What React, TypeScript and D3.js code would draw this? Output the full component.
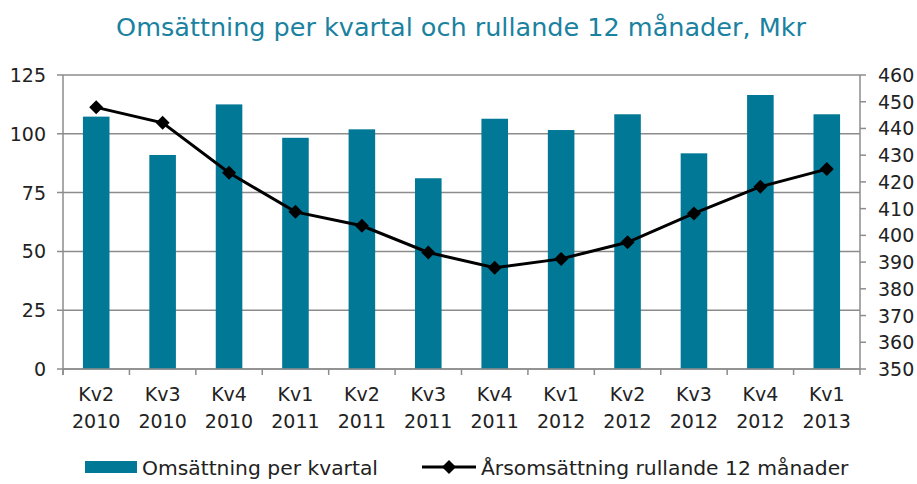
import React from "react";
import * as d3 from "d3";

const categories = ["Kv2 2010", "Kv3 2010", "Kv4 2010", "Kv1 2011", "Kv2 2011", "Kv3 2011", "Kv4 2011", "Kv1 2012", "Kv2 2012", "Kv3 2012", "Kv4 2012", "Kv1 2013"];
const quarterly = [107.3, 91, 112.5, 98.3, 101.9, 81.1, 106.4, 101.6, 108.3, 91.7, 116.5, 108.3];
const rolling = [447.9, 442.1, 423.4, 408.8, 403.6, 393.6, 387.9, 391.2, 397.4, 408.2, 418.2, 424.8];
const leftTicks = [0, 25, 50, 75, 100, 125];
const rightTicks = [350, 360, 370, 380, 390, 400, 410, 420, 430, 440, 450, 460];
const title = "Omsättning per kvartal och rullande 12 månader, Mkr";
const legendBar = "Omsättning per kvartal";
const legendLine = "Årsomsättning rullande 12 månader";

const W = 917, H = 484;
const left = 63, right = 860, top = 75, bottom = 369;
const FONT = "'DejaVu Sans', sans-serif";
const BAR = "#007896";
const GRID = "#8c8c8c";

export default function App() {
  const x = d3.scaleBand<string>().domain(categories).range([left, right]).paddingInner(0.6).paddingOuter(0.3);
  const xc = (c: string) => (x(c) as number) + x.bandwidth() / 2;
  const yL = d3.scaleLinear().domain([0, 125]).range([bottom, top]);
  const yR = d3.scaleLinear().domain([350, 460]).range([bottom, top]);
  const step = (right - left) / categories.length;
  const line = d3.line<number>().x((_, i) => xc(categories[i])).y((d) => yR(d));
  const diamond = (cx: number, cy: number, r: number) => `M${cx},${cy - r}L${cx + r},${cy}L${cx},${cy + r}L${cx - r},${cy}Z`;

  return (
    <svg width={W} height={H} style={{ position: "absolute", left: 0, top: 0, background: "#fff" }} fontFamily={FONT}>
      <text x={461} y={36} textAnchor="middle" fontSize={25.5} fill="#1a82a0">{title}</text>
      {leftTicks.map((t) => (
        <g key={t}>
          <line x1={left - 6} x2={right} y1={yL(t)} y2={yL(t)} stroke={GRID} strokeWidth={1.5} />
          <text x={46} y={yL(t) + 7} textAnchor="end" fontSize={19} fill="#222">{t}</text>
        </g>
      ))}
      {rightTicks.map((t) => (
        <g key={t}>
          <line x1={right} x2={right + 6} y1={yR(t)} y2={yR(t)} stroke={GRID} strokeWidth={1.5} />
          <text x={878} y={yR(t) + 7} fontSize={19} fill="#222">{t}</text>
        </g>
      ))}
      <line x1={left} x2={left} y1={top} y2={bottom + 6} stroke={GRID} strokeWidth={1.5} />
      <line x1={right} x2={right} y1={top} y2={bottom + 6} stroke={GRID} strokeWidth={1.5} />
      {categories.map((c, i) => (
        <line key={c} x1={left + step * i} x2={left + step * i} y1={bottom} y2={bottom + 6} stroke={GRID} strokeWidth={1.5} />
      ))}
      {quarterly.map((v, i) => (
        <rect key={i} x={x(categories[i])} y={yL(v)} width={x.bandwidth()} height={yL(0) - yL(v)} fill={BAR} />
      ))}
      <line x1={left} x2={right} y1={bottom} y2={bottom} stroke={GRID} strokeWidth={1.5} />
      <path d={line(rolling) || ""} fill="none" stroke="#000" strokeWidth={3} />
      {rolling.map((v, i) => (
        <path key={i} d={diamond(xc(categories[i]), yR(v), 7)} fill="#000" />
      ))}
      {categories.map((c) => {
        const [a, b] = c.split(" ");
        return (
          <text key={c} textAnchor="middle" fontSize={19} fill="#222">
            <tspan x={left + step * (categories.indexOf(c) + 0.5)} y={401}>{a}</tspan>
            <tspan x={left + step * (categories.indexOf(c) + 0.5)} y={428}>{b}</tspan>
          </text>
        );
      })}
      <rect x={85} y={461} width={52} height={12} fill={BAR} />
      <text x={142} y={475} fontSize={20.3} fill="#222">{legendBar}</text>
      <line x1={422} x2={476} y1={467} y2={467} stroke="#000" strokeWidth={3} />
      <path d={diamond(449, 467, 7)} fill="#000" />
      <text x={481} y={475} fontSize={20.3} fill="#222">{legendLine}</text>
    </svg>
  );
}
